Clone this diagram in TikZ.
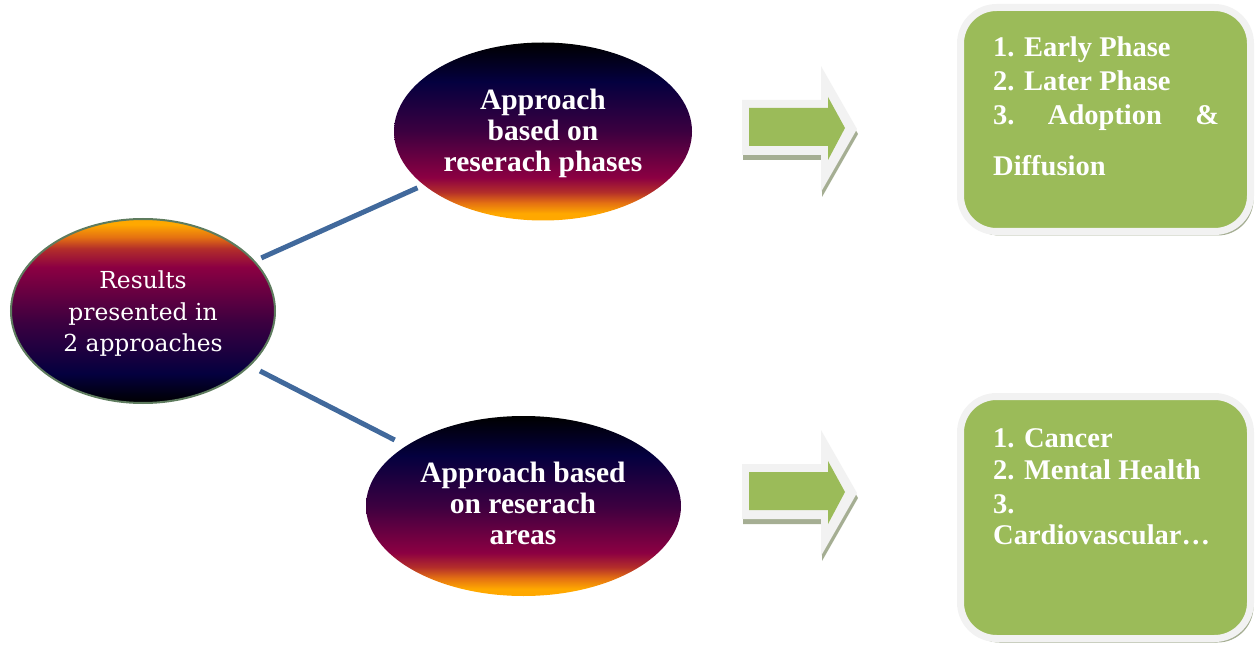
\documentclass[tikz,border=0pt]{standalone}
\usepackage{fontspec}
\setmainfont{Liberation Serif}
\newfontfamily\slabfont{DejaVu Serif}
\usetikzlibrary{shapes.geometric,shadows}
\definecolor{orangec}{HTML}{FFA800}
\definecolor{dorangec}{HTML}{E47012}
\definecolor{redc}{HTML}{B32E2A}
\definecolor{crimsonc}{HTML}{8C0042}
\definecolor{purplec}{HTML}{3C0040}
\definecolor{navyc}{HTML}{04003F}
\definecolor{connc}{HTML}{41699C}
\definecolor{greenc}{HTML}{9BBB59}
\definecolor{lightc}{HTML}{F2F2F2}
\definecolor{shadowc}{HTML}{A5AE93}
\definecolor{rimc}{HTML}{5E7B5E}
\pgfdeclareverticalshading{upshade}{100bp}{color(0bp)=(black); color(25bp)=(black); color(33bp)=(navyc); color(47bp)=(purplec); color(62bp)=(crimsonc); color(67bp)=(redc); color(70bp)=(dorangec); color(73.5bp)=(orangec); color(100bp)=(orangec)}
\pgfdeclareverticalshading{downshade}{100bp}{color(0bp)=(orangec); color(27bp)=(orangec); color(30bp)=(dorangec); color(33bp)=(redc); color(37bp)=(crimsonc); color(50bp)=(purplec); color(64bp)=(navyc); color(75bp)=(black); color(100bp)=(black)}
\tikzset{
  oval/.style={ellipse, inner sep=0pt, outer sep=0pt},
  ovaltext/.style={inner sep=0pt, text=white, align=center, font=\fontsize{29.5}{31}\selectfont\bfseries},
  conn/.style={draw=connc, line width=5pt},
  greenbox/.style={rectangle, rounded corners=36pt, fill=greenc, draw=lightc, line width=7pt,
    drop shadow={shadow xshift=3pt, shadow yshift=-4pt, fill=shadowc, opacity=1}},
  boxtext/.style={anchor=base west, inner sep=0pt, text=white, font=\fontsize{28.5}{31}\selectfont\bfseries},
}
\begin{document}
\begin{tikzpicture}[x=1pt, y=-1pt]
\useasboundingbox (0,0) rectangle (1259,647);
% ellipses
\node[oval, shading=upshade, draw=rimc, line width=2pt, minimum width=264pt, minimum height=184pt] (L) at (143,311) {};
\node[inner sep=0pt, text=white, align=center, font=\slabfont\fontsize{23.4}{31.5}\selectfont] (Lt) at (143,314) {Results\\presented in\\2 approaches};
\node[oval, shading=downshade, minimum width=298pt, minimum height=178pt] (T) at (543,131.5) {};
\node[ovaltext] (Tt) at (543,133) {Approach\\based on\\reserach phases};
\node[oval, shading=downshade, minimum width=315pt, minimum height=180pt] (B) at (523.5,506) {};
\node[ovaltext] (Bt) at (523,503) {Approach based\\on reserach\\areas};
% connectors
\draw[conn, shorten <=8pt, shorten >=7pt] (L) -- (T);
\draw[conn, shorten <=12pt, shorten >=13pt] (L) -- (B);
% block arrows
\foreach \dy in {0,364}{
  \begin{scope}[shift={(0,\dy)}]
    \fill[shadowc] (743,105) -- (822,105) -- (822,71) -- (858,134) -- (822,197) -- (822,160) -- (743,160) -- cycle;
    \fill[lightc] (742,100) -- (821,100) -- (821,66) -- (857,129) -- (821,192) -- (821,155) -- (742,155) -- cycle;
    \fill[greenc] (749,108) -- (828,108) -- (828,97) -- (845,128) -- (828,160) -- (828,146) -- (749,146) -- cycle;
  \end{scope}
}
% boxes
\node[greenbox, minimum width=290pt, minimum height=224pt] (BoxA) at (1105.5,119.5) {};
\node[greenbox, minimum width=290pt, minimum height=242pt] (BoxB) at (1105.5,517.5) {};
% box texts
\node[boxtext] (a1) at (993,57) {1. Early Phase};
\node[boxtext] (a2) at (993,91) {2. Later Phase};
\node[boxtext] (a3) at (993,125) {\hbox to 226pt{3.\hfil Adoption\hfil \&}};
\node[boxtext] (a4) at (993,176) {Diffusion};
\node[boxtext] (b1) at (993,447) {1. Cancer};
\node[boxtext] (b2) at (993,479) {2. Mental Health};
\node[boxtext] (b3) at (993,513) {3.};
\node[boxtext] (b4) at (993,544) {Cardiovascular…};
\end{tikzpicture}
\end{document}
